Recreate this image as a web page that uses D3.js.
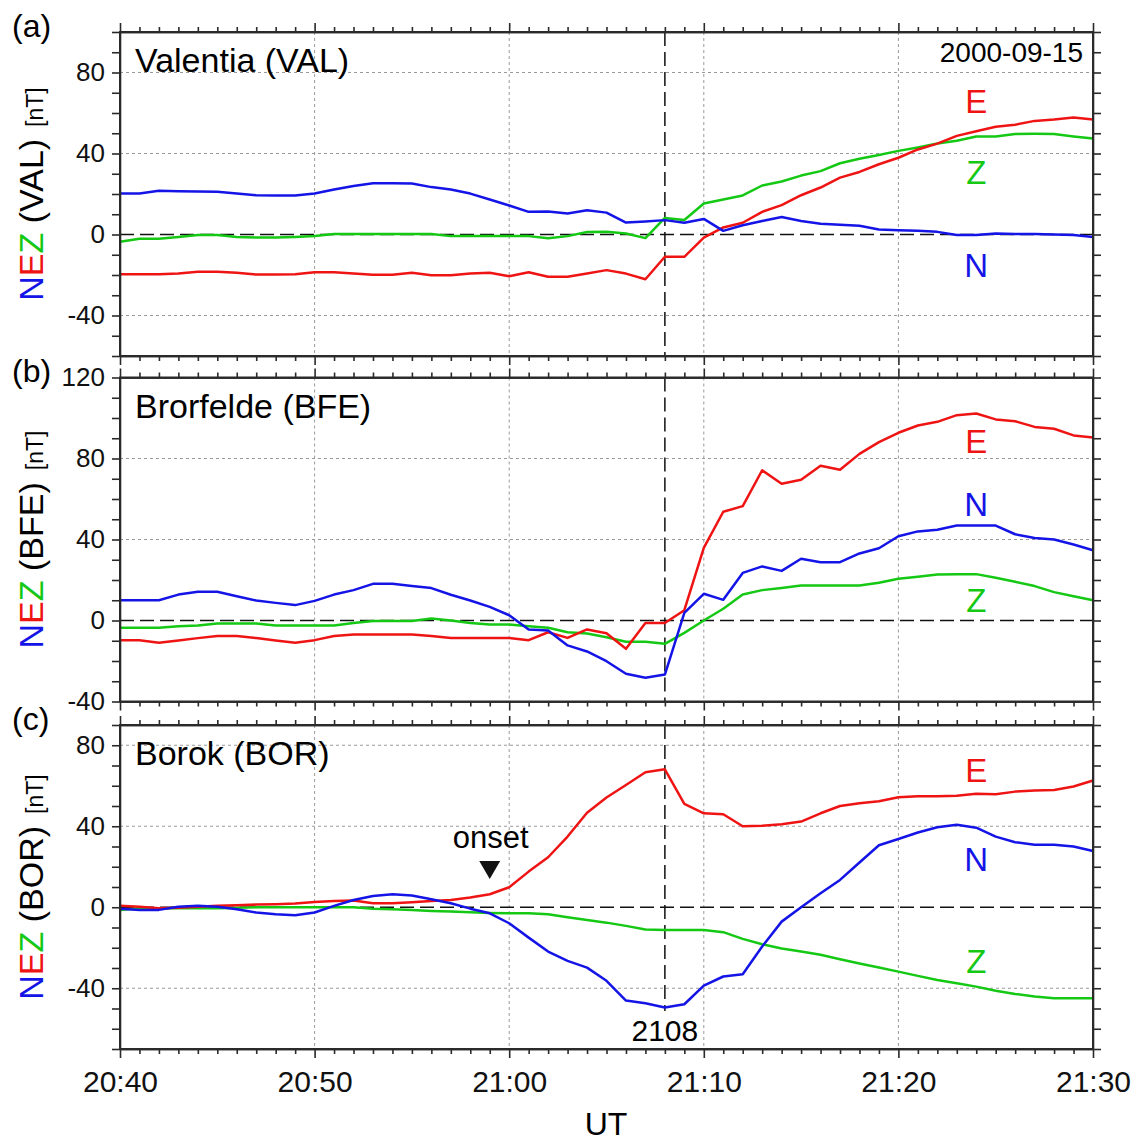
<!DOCTYPE html>
<html>
<head>
<meta charset="utf-8">
<script src="https://cdn.jsdelivr.net/npm/d3@7"></script>
<style>
  body { margin: 0; background: #fff; }
  svg { font-family: "Liberation Sans", Arial, sans-serif; }
</style>
</head>
<body>
<svg width="1136" height="1143"></svg>
<script>
// one value per minute, 20:40 .. 21:30 UT
const valN = [20.2, 20.2, 21.6, 21.4, 21.2, 21.1, 20.2, 19.4, 19.3, 19.3,
  20.2, 22.2, 24.0, 25.3, 25.3, 25.2, 23.4, 22.2, 20.2, 17.3,
  14.3, 11.2, 11.4, 10.4, 12.0, 10.8, 5.9, 6.4, 7.1, 5.8,
  7.7, 1.8, 4.6, 6.7, 8.6, 6.7, 5.3, 4.8, 4.3, 2.5,
  2.1, 1.8, 1.3, -0.3, -0.3, 0.5, 0.3, 0.2, 0, -0.2, -1.2];
const valE = [-19.6, -19.6, -19.6, -19.3, -18.4, -18.4, -18.9, -19.8, -19.8, -19.6,
  -18.6, -18.6, -19.3, -19.9, -19.9, -18.9, -20.1, -20.1, -19.3, -18.9,
  -20.6, -18.6, -20.9, -20.9, -19.3, -17.6, -19.3, -22.1, -11.0, -11.0,
  -1.5, 3.5, 5.8, 11.2, 14.5, 19.4, 23.2, 28.1, 30.9, 34.7,
  37.9, 42.0, 44.9, 48.7, 51.0, 53.2, 54.2, 56.1, 56.8, 57.8, 56.8];
const valZ = [-3.6, -2.1, -2.1, -1.2, -0.3, -0.3, -1.2, -1.5, -1.5, -1.2,
  -0.7, 0.2, 0.3, 0.3, 0.3, 0.3, 0.2, -0.8, -0.8, -0.8,
  -0.7, -0.8, -1.8, -0.8, 1.2, 1.3, 0.5, -1.8, 8.2, 7.2,
  15.3, 17.3, 19.3, 24.2, 26.2, 29.1, 31.3, 35.2, 37.4, 39.3,
  41.3, 43.0, 44.9, 46.3, 48.4, 48.4, 49.6, 49.7, 49.6, 48.4, 47.4];

const bfeN = [10.0, 10.0, 10.0, 12.8, 14.2, 14.2, 12.0, 9.9, 8.7, 7.6,
  9.7, 12.8, 15.0, 18.1, 18.1, 17.0, 16.0, 12.7, 9.9, 6.7,
  2.6, -4.4, -4.9, -12.3, -15.3, -20.1, -26.3, -28.3, -26.7, 3.8,
  13.2, 10.2, 23.5, 26.7, 24.5, 30.5, 28.8, 28.8, 33.1, 35.7,
  41.6, 44.0, 44.8, 46.9, 46.9, 46.9, 42.6, 40.7, 40.0, 37.5, 34.7];
const bfeE = [-9.7, -9.7, -11.0, -9.9, -8.7, -7.7, -7.7, -8.7, -9.9, -11.0,
  -9.7, -7.7, -6.9, -6.9, -6.9, -6.9, -7.7, -8.7, -8.7, -8.6,
  -8.6, -9.7, -5.8, -8.6, -4.4, -6.3, -14.0, -1.2, -1.2, 5.1,
  35.9, 53.7, 56.5, 74.2, 67.5, 69.5, 76.4, 74.4, 82.3, 88.1,
  92.7, 96.3, 98.1, 101.4, 102.2, 99.3, 98.4, 95.6, 94.7, 91.4, 90.4];
const bfeZ = [-3.6, -3.6, -3.6, -2.8, -2.5, -1.5, -1.5, -1.5, -2.5, -2.5,
  -2.5, -2.5, -1.2, -0.3, -0.2, -0.2, 1.0, 0, -1.2, -2.0,
  -2.0, -2.8, -3.6, -5.8, -6.4, -8.3, -10.5, -10.5, -11.5, -6.1,
  0, 5.8, 12.8, 15.0, 16.1, 17.3, 17.3, 17.3, 17.3, 18.6,
  20.6, 21.6, 22.7, 22.9, 22.9, 21.1, 19.1, 17.0, 14.0, 12.0, 10.0];

const borN = [-0.8, -1.3, -1.3, 0.3, 0.7, 0.3, -1.0, -2.6, -3.5, -4.0,
  -2.6, 0.7, 3.6, 5.6, 6.4, 5.8, 4.0, 2.0, -0.7, -3.0,
  -7.9, -15.0, -21.9, -26.5, -29.8, -36.3, -46.1, -47.4, -49.5, -47.9,
  -38.7, -34.2, -33.1, -19.4, -7.1, 0, 6.9, 13.5, 22.1, 30.6,
  33.7, 36.9, 39.5, 40.7, 39.3, 34.9, 32.1, 30.9, 30.9, 30.0, 27.8];
const borE = [0.7, 0.3, -0.5, -0.2, 0.3, 0.7, 1.0, 1.3, 1.5, 1.8,
  2.6, 3.1, 3.3, 2.0, 2.0, 2.5, 3.1, 3.6, 4.8, 6.4,
  9.9, 17.6, 24.7, 34.9, 46.7, 54.2, 60.4, 66.7, 68.1, 51.0,
  46.4, 45.9, 40.0, 40.3, 41.0, 42.3, 46.4, 50.0, 51.4, 52.3,
  54.3, 54.8, 54.8, 55.1, 56.1, 55.8, 57.1, 57.6, 57.9, 59.6, 62.6];
const borZ = [-1.3, -0.5, -0.5, -0.5, -0.5, -0.5, -0.3, 0, 0, 0,
  0, 0, 0, -0.7, -1.0, -1.3, -1.8, -2.1, -2.5, -2.8,
  -3.0, -3.0, -3.5, -4.9, -6.3, -7.6, -9.2, -11.0, -11.2, -11.2,
  -11.2, -12.3, -15.6, -18.3, -20.4, -21.9, -23.5, -25.7, -27.8, -29.8,
  -31.8, -33.9, -35.9, -37.5, -39.2, -41.2, -42.8, -44.1, -44.9, -44.9, -44.9];

const dateLabel = "2000-09-15";
const onsetMinute = 19;   // 20:59
const eventMinute = 28;   // 21:08

const svg = d3.select("svg");
const blue = "#1414e6", red = "#ef1414", green = "#14c814";
const colors = { N: blue, E: red, Z: green };

const t0 = Date.UTC(2000, 8, 15, 20, 40);
const minute = m => new Date(t0 + m * 60000);
const times = d3.range(51).map(minute);

const x = d3.scaleUtc()
  .domain([minute(0), minute(50)])
  .range([120, 1093]);

const panels = [
  { tag: "(a)", name: "Valentia (VAL)", code: "VAL", top: 32, domain: [-60, 100],
    series: { N: valN, E: valE, Z: valZ }, labels: { E: 65.8, Z: 30.8, N: -14.9 } },
  { tag: "(b)", name: "Brorfelde (BFE)", code: "BFE", top: 377.5, domain: [-40, 120],
    series: { N: bfeN, E: bfeE, Z: bfeZ }, labels: { E: 88.4, N: 57.3, Z: 9.9 } },
  { tag: "(c)", name: "Borok (BOR)", code: "BOR", top: 725, domain: [-70, 90],
    series: { N: borN, E: borE, Z: borZ }, labels: { E: 67.6, N: 23.9, Z: -26.5 } }
];
const panelHeight = 324;
const frame = "#2a2a2a";

panels.forEach((p, i) => {
  const y = d3.scaleLinear()
    .domain(p.domain)
    .range([p.top + panelHeight, p.top]);
  const g = svg.append("g");
  const [y0, y1] = p.domain;
  const yMinor = d3.range(Math.ceil(y0 / 10) * 10, y1 + 1, 10);
  const yMajor = yMinor.filter(d => d % 40 === 0);

  // grid
  g.selectAll(".hgrid")
    .data(yMajor.filter(d => d !== 0 && d > y0 && d < y1))
    .enter().append("line")
    .attr("x1", 120).attr("x2", 1093)
    .attr("y1", d => y(d)).attr("y2", d => y(d))
    .attr("stroke", "#9a9a9a").attr("stroke-width", 1)
    .attr("stroke-dasharray", "3,3");
  g.selectAll(".vgrid")
    .data([10, 20, 30, 40].map(minute))
    .enter().append("line")
    .attr("x1", d => x(d)).attr("x2", d => x(d))
    .attr("y1", p.top).attr("y2", p.top + panelHeight)
    .attr("stroke", "#9a9a9a").attr("stroke-width", 1)
    .attr("stroke-dasharray", "3,3");

  // zero and event line
  g.append("line")
    .attr("x1", 120).attr("x2", 1093)
    .attr("y1", y(0)).attr("y2", y(0))
    .attr("stroke", "#111").attr("stroke-width", 1.5)
    .attr("stroke-dasharray", "14,6");
  g.append("line")
    .attr("x1", x(minute(eventMinute))).attr("x2", x(minute(eventMinute)))
    .attr("y1", p.top).attr("y2", i === 2 ? p.top + panelHeight - 38 : p.top + panelHeight)
    .attr("stroke", "#111").attr("stroke-width", 1.5)
    .attr("stroke-dasharray", "14,6");

  // data
  const line = d3.line()
    .x((d, k) => x(times[k]))
    .y(d => y(d));
  ["Z", "E", "N"].forEach(c => {
    g.append("path")
      .datum(p.series[c])
      .attr("d", line)
      .attr("fill", "none")
      .attr("stroke", colors[c])
      .attr("stroke-width", 2.5)
      .attr("stroke-linejoin", "round");
  });

  // axes
  const fmt = d => (d % 40 === 0 ? d : "");
  g.append("g")
    .attr("transform", "translate(120,0)")
    .call(d3.axisLeft(y).tickValues(yMinor).tickFormat(fmt).tickSize(8).tickPadding(7).tickSizeOuter(0))
    .call(a => a.selectAll("text").style("font-size", "26px").attr("fill", "#111"));
  g.append("g")
    .attr("transform", "translate(1093,0)")
    .call(d3.axisRight(y).tickValues(yMinor).tickFormat("").tickSize(8).tickSizeOuter(0));

  const xMinor = d3.range(51).filter(m => m % 10 !== 0).map(minute);
  const xMajor = [0, 10, 20, 30, 40, 50].map(minute);
  [["top", p.top], ["bottom", p.top + panelHeight]].forEach(([side, yy]) => {
    const mk = side === "top" ? d3.axisTop : d3.axisBottom;
    g.append("g")
      .attr("transform", `translate(0,${yy})`)
      .call(mk(x).tickValues(xMinor).tickFormat("").tickSize(5).tickSizeOuter(0));
    const showLabels = side === "bottom" && i === 2;
    g.append("g")
      .attr("transform", `translate(0,${yy})`)
      .call(mk(x).tickValues(xMajor).tickSize(9).tickSizeOuter(0).tickPadding(12.7)
        .tickFormat(showLabels ? d3.utcFormat("%H:%M") : ""))
      .call(a => a.selectAll("text").style("font-size", "30px").attr("fill", "#111"));
  });
  g.selectAll(".domain, .tick line").attr("stroke", frame).attr("stroke-width", 1.6);

  g.append("rect")
    .attr("x", 120).attr("y", p.top)
    .attr("width", 973).attr("height", panelHeight)
    .attr("fill", "none").attr("stroke", frame).attr("stroke-width", 2);

  // texts
  g.append("text")
    .attr("x", 12).attr("y", p.top + 4.5)
    .style("font-size", "32px")
    .text(p.tag);
  g.append("text")
    .attr("x", 135).attr("y", p.top + 40)
    .style("font-size", "34px")
    .text(p.name);

  const lab = g.append("text")
    .attr("transform", `translate(43,${p.top + panelHeight / 2}) rotate(-90)`)
    .attr("text-anchor", "middle")
    .style("font-size", "34px");
  ["N", "E", "Z"].forEach(c => lab.append("tspan").attr("fill", colors[c]).text(c));
  lab.append("tspan").text(` (${p.code})`);
  lab.append("tspan").attr("dx", 12).style("font-size", "23px").text("[nT]");

  Object.entries(p.labels).forEach(([c, v]) => {
    g.append("text")
      .attr("x", x(minute(44)))
      .attr("y", y(v))
      .attr("dy", "0.36em")
      .attr("text-anchor", "middle")
      .attr("fill", colors[c])
      .style("font-size", "33px")
      .text(c);
  });
});

svg.append("text")
  .attr("x", 1083).attr("y", 62)
  .attr("text-anchor", "end")
  .style("font-size", "28px")
  .text(dateLabel);

// onset marker (panel c)
svg.append("text")
  .attr("x", x(minute(onsetMinute)) + 1).attr("y", 848)
  .attr("text-anchor", "middle")
  .style("font-size", "31px")
  .text("onset");
svg.append("path")
  .attr("d", d3.symbol(d3.symbolTriangle, 190)())
  .attr("transform", `translate(${x(minute(onsetMinute))},867) rotate(180)`)
  .attr("fill", "#111");

svg.append("text")
  .attr("x", x(minute(eventMinute))).attr("y", 1041)
  .attr("text-anchor", "middle")
  .style("font-size", "30px")
  .text("2108");

svg.append("text")
  .attr("x", 606).attr("y", 1135)
  .attr("text-anchor", "middle")
  .style("font-size", "32px")
  .text("UT");
</script>
</body>
</html>
